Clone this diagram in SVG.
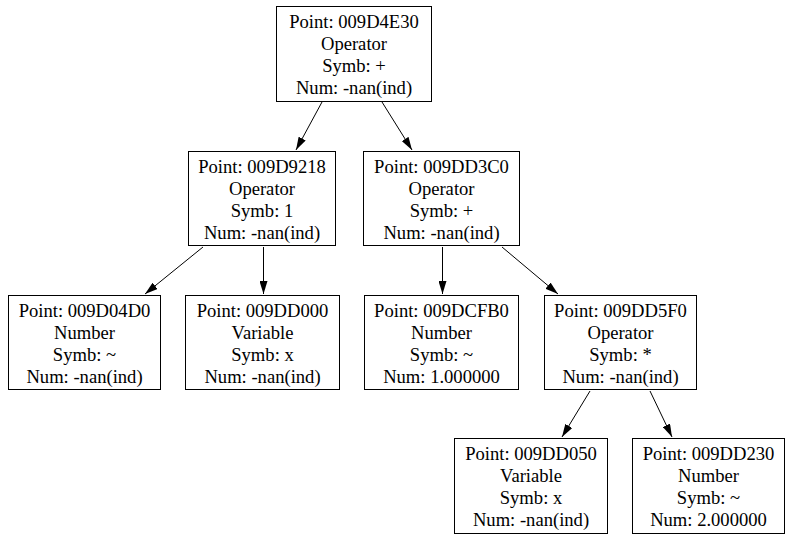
<svg xmlns="http://www.w3.org/2000/svg" width="793" height="541" viewBox="0 0 793 541">
<style>
.box{fill:#fff;stroke:#000;stroke-width:1}
text{font-family:"Liberation Serif","Times New Roman",serif;font-size:18.6px;fill:#000;text-anchor:middle}
.edge{stroke:#000;stroke-width:1;fill:none;marker-end:url(#arr)}
</style>
<defs>
<marker id="arr" markerUnits="userSpaceOnUse" markerWidth="13" markerHeight="8" refX="13" refY="4" orient="auto">
<path d="M0,0 L13,4 L0,8 z" fill="#000"/>
</marker>
</defs>
<rect width="793" height="541" fill="#fff"/>
<g id="edges">
<line class="edge" x1="322" y1="102" x2="296" y2="150"/>
<line class="edge" x1="382" y1="102" x2="412" y2="150"/>
<line class="edge" x1="203" y1="247" x2="145" y2="294"/>
<line class="edge" x1="263.5" y1="247" x2="263.5" y2="294"/>
<line class="edge" x1="442.5" y1="247" x2="442.5" y2="294"/>
<line class="edge" x1="502" y1="247" x2="558" y2="294"/>
<line class="edge" x1="590" y1="391" x2="562" y2="437"/>
<line class="edge" x1="650" y1="391" x2="672" y2="437"/>
</g>
<g id="n009D4E30">
<rect class="box" x="276.5" y="6.5" width="155" height="95"/>
<text x="354" y="28">Point: 009D4E30</text>
<text x="354" y="50">Operator</text>
<text x="354" y="72">Symb: +</text>
<text x="354" y="94">Num: -nan(ind)</text>
</g>
<g id="n009D9218">
<rect class="box" x="188.5" y="151.5" width="147" height="94"/>
<text x="262" y="173">Point: 009D9218</text>
<text x="262" y="195">Operator</text>
<text x="262" y="217">Symb: 1</text>
<text x="262" y="239">Num: -nan(ind)</text>
</g>
<g id="n009DD3C0">
<rect class="box" x="363.5" y="151.5" width="156" height="94"/>
<text x="441.5" y="173">Point: 009DD3C0</text>
<text x="441.5" y="195">Operator</text>
<text x="441.5" y="217">Symb: +</text>
<text x="441.5" y="239">Num: -nan(ind)</text>
</g>
<g id="n009D04D0">
<rect class="box" x="8.5" y="295.5" width="152" height="94"/>
<text x="84.5" y="317">Point: 009D04D0</text>
<text x="84.5" y="339">Number</text>
<text x="84.5" y="361">Symb: ~</text>
<text x="84.5" y="383">Num: -nan(ind)</text>
</g>
<g id="n009DD000">
<rect class="box" x="185.5" y="295.5" width="154" height="94"/>
<text x="262.5" y="317">Point: 009DD000</text>
<text x="262.5" y="339">Variable</text>
<text x="262.5" y="361">Symb: x</text>
<text x="262.5" y="383">Num: -nan(ind)</text>
</g>
<g id="n009DCFB0">
<rect class="box" x="364.5" y="295.5" width="154" height="94"/>
<text x="441.5" y="317">Point: 009DCFB0</text>
<text x="441.5" y="339">Number</text>
<text x="441.5" y="361">Symb: ~</text>
<text x="441.5" y="383">Num: 1.000000</text>
</g>
<g id="n009DD5F0">
<rect class="box" x="544.5" y="295.5" width="152" height="94"/>
<text x="620.5" y="317">Point: 009DD5F0</text>
<text x="620.5" y="339">Operator</text>
<text x="620.5" y="361">Symb: *</text>
<text x="620.5" y="383">Num: -nan(ind)</text>
</g>
<g id="n009DD050">
<rect class="box" x="454.5" y="438.5" width="153" height="95"/>
<text x="531" y="460">Point: 009DD050</text>
<text x="531" y="482">Variable</text>
<text x="531" y="504">Symb: x</text>
<text x="531" y="526">Num: -nan(ind)</text>
</g>
<g id="n009DD230">
<rect class="box" x="632.5" y="438.5" width="152" height="95"/>
<text x="708.5" y="460">Point: 009DD230</text>
<text x="708.5" y="482">Number</text>
<text x="708.5" y="504">Symb: ~</text>
<text x="708.5" y="526">Num: 2.000000</text>
</g>
</svg>
